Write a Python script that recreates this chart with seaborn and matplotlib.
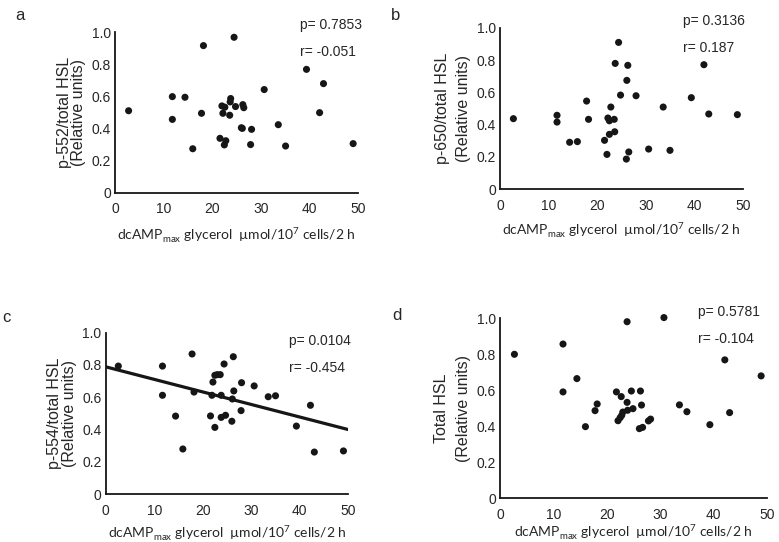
import numpy as np
import pandas as pd
import matplotlib
matplotlib.use("Agg")
import matplotlib.pyplot as plt
import seaborn as sns

# Data (x: dcAMPmax glycerol, y: relative units)
a_x = [2.8, 11.8, 11.8, 14.4, 16.0, 17.8, 18.2, 24.5, 21.6, 22.0, 22.2, 22.6, 22.5, 22.8,
       23.6, 23.8, 23.7, 24.8, 26.3, 26.5, 26.0, 26.2, 28.1, 27.9, 30.7, 33.6, 35.1, 39.4,
       42.1, 42.9, 49.0]
a_y = [0.511, 0.599, 0.457, 0.595, 0.274, 0.495, 0.917, 0.969, 0.339, 0.541, 0.495, 0.533,
       0.298, 0.324, 0.483, 0.587, 0.566, 0.537, 0.549, 0.530, 0.405, 0.401, 0.395, 0.300,
       0.643, 0.424, 0.291, 0.769, 0.499, 0.680, 0.306]

b_x = [2.7, 11.7, 11.7, 14.3, 15.9, 17.8, 18.2, 21.5, 22.0, 22.2, 22.5, 22.5, 22.8, 23.5,
       23.7, 23.6, 24.4, 24.8, 26.1, 26.3, 26.0, 26.5, 28.0, 30.6, 33.6, 35.0, 39.4, 42.0,
       43.0, 48.9]
b_y = [0.437, 0.458, 0.416, 0.291, 0.295, 0.546, 0.433, 0.303, 0.216, 0.441, 0.424, 0.340,
       0.509, 0.433, 0.779, 0.356, 0.909, 0.583, 0.674, 0.767, 0.187, 0.231, 0.579, 0.249,
       0.509, 0.241, 0.567, 0.771, 0.466, 0.462]

c_x = [2.6, 11.7, 11.7, 14.4, 15.9, 17.8, 18.2, 21.6, 21.9, 22.1, 22.5, 22.5, 23.0, 23.6,
       23.8, 23.8, 24.4, 24.7, 26.0, 26.1, 26.3, 26.4, 27.9, 28.0, 30.6, 33.5, 35.0, 39.3,
       42.2, 43.0, 49.0]
c_y = [0.793, 0.793, 0.612, 0.483, 0.279, 0.868, 0.632, 0.484, 0.612, 0.694, 0.736, 0.413,
       0.740, 0.740, 0.612, 0.475, 0.806, 0.488, 0.451, 0.589, 0.851, 0.639, 0.517, 0.690,
       0.670, 0.603, 0.609, 0.421, 0.550, 0.260, 0.267]

d_x = [2.7, 11.8, 11.8, 14.4, 16.0, 17.8, 18.2, 21.8, 22.1, 22.5, 22.7, 22.8, 23.0, 23.8,
       23.9, 23.8, 24.6, 24.9, 26.1, 26.3, 26.5, 26.7, 27.8, 28.2, 30.7, 33.6, 35.0, 39.3,
       42.1, 43.0, 48.9]
d_y = [0.800, 0.857, 0.591, 0.665, 0.398, 0.487, 0.524, 0.591, 0.431, 0.448, 0.565, 0.461,
       0.479, 0.533, 0.489, 0.981, 0.596, 0.498, 0.387, 0.596, 0.518, 0.394, 0.430, 0.440,
       1.004, 0.519, 0.481, 0.409, 0.769, 0.476, 0.680]

panels = [
    ("a", a_x, a_y, "p-552/total HSL\n(Relative units)", "p= 0.7853", "r= -0.051", False),
    ("b", b_x, b_y, "p-650/total HSL\n(Relative units)", "p= 0.3136", "r= 0.187", False),
    ("c", c_x, c_y, "p-554/total HSL\n(Relative units)", "p= 0.0104", "r= -0.454", True),
    ("d", d_x, d_y, "Total HSL\n(Relative units)", "p= 0.5781", "r= -0.104", False),
]

xticks = [0, 10, 20, 30, 40, 50]
yticks = [0, 0.2, 0.4, 0.6, 0.8, 1.0]
ytick_labels = ["0", "0.2", "0.4", "0.6", "0.8", "1.0"]
xlabel = "dcAMP$_\\mathregular{max}$ glycerol  \u00b5mol/10$^\\mathregular{7}$ cells/2 h"

sns.set_theme(style="white")
plt.rcParams['font.family'] = ['Liberation Sans', 'DejaVu Sans']

W, H = 779, 542
fig = plt.figure(figsize=(W / 100, H / 100), dpi=100)

# axes boxes in pixels: left, right, top(y=1), bottom(y=0)
boxes = {"a": (115, 358, 32.3, 192.7),
         "b": (500.3, 742.7, 27.7, 189.3),
         "c": (105.7, 348.3, 332.7, 494),
         "d": (500, 767, 318.3, 498.3)}
letters = {"a": (15, 8), "b": (391, 8), "c": (2, 310), "d": (392, 308)}
ptext = {"a": (300, 25), "b": (683, 21), "c": (289, 341), "d": (698, 312)}
ylab_space = {"a": 0.95, "b": 1.55, "c": 0.95, "d": 1.55}
xlab_pad = {"a": 6, "b": 5, "c": 3.5, "d": 0}

txt = "#262626"
for name, xs, ys, ylab, ptxt, rtxt, fit in panels:
    l, r, t, b = boxes[name]
    ax = fig.add_axes([l / W, 1 - b / H, (r - l) / W, (b - t) / H])
    df = pd.DataFrame({"x": xs, "y": ys})
    ax.set_xlim(0, 50)
    ax.set_ylim(0, 1.0)
    sns.scatterplot(data=df, x="x", y="y", ax=ax, color="#161616", s=26,
                    edgecolor="none", clip_on=False, zorder=3)
    if fit:
        sns.regplot(data=df, x="x", y="y", ax=ax, scatter=False, ci=None,
                    truncate=False, color="#161616", line_kws={"lw": 2.3})
    ax.set_xlim(0, 50)
    ax.set_ylim(0, 1.0)
    ax.set_xticks(xticks)
    ax.set_yticks(yticks)
    ax.set_yticklabels(ytick_labels)
    ax.tick_params(length=0, labelsize=10, labelcolor=txt)
    ax.tick_params(axis="x", pad=7)
    ax.tick_params(axis="y", pad=3)
    for s in ["top", "right"]:
        ax.spines[s].set_visible(False)
    for s in ["left", "bottom"]:
        ax.spines[s].set_color("#161616")
        ax.spines[s].set_linewidth(1.3)
    ax.set_xlabel(xlabel, fontsize=10, color=txt, labelpad=xlab_pad[name],
                  family=['Lato', 'DejaVu Sans'])
    ax.set_ylabel(ylab, fontsize=11.5, color=txt, labelpad=4,
                  linespacing=ylab_space[name])
    lx, ly = letters[name]
    fig.text(lx / W, 1 - ly / H, name, fontsize=12, color=txt, va="top")
    px, py = ptext[name]
    fig.text(px / W, 1 - py / H, ptxt, fontsize=10, color=txt, va="center")
    fig.text(px / W, 1 - (py + 27) / H, rtxt, fontsize=10, color=txt, va="center")

fig.savefig("out.png", dpi=100)
